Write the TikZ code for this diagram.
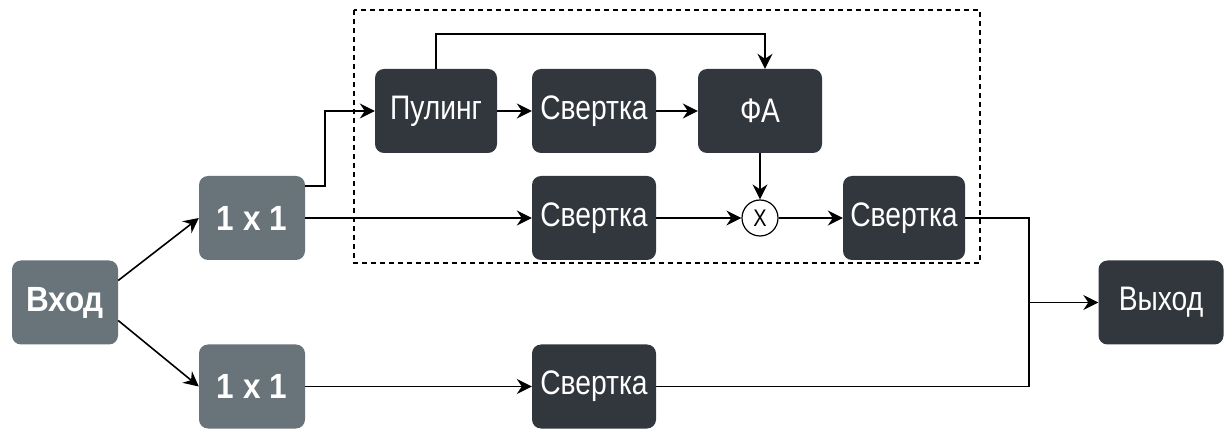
\documentclass[tikz,border=0pt]{standalone}
\usepackage{fontspec}
\setmainfont{Liberation Sans}
\newfontfamily\narrowfont[FakeStretch=0.83]{Liberation Sans}
\newfontfamily\boldnarrow[FakeStretch=0.9]{Liberation Sans Bold}
\usetikzlibrary{arrows.meta}
\definecolor{boxgray}{HTML}{69737A}
\definecolor{boxdark}{HTML}{32373D}

\begin{document}
\begin{tikzpicture}[x=1pt,y=1pt,
  darkbox/.style={fill=boxdark, text=white, rounded corners=9pt, inner sep=0pt,
    minimum width=124pt, minimum height=84pt, font=\narrowfont\fontsize{34}{34}\selectfont},
  graybox/.style={fill=boxgray, text=white, rounded corners=9pt, inner sep=0pt,
    minimum width=106pt, minimum height=84pt, font=\boldnarrow\fontsize{35}{35}\selectfont},
  link/.style={line width=1.6pt, -{Stealth[length=15pt,width=15pt,inset=5pt]}},
  wire/.style={line width=1.6pt}]
\useasboundingbox (0,0) rectangle (1227,-430);

% attention block frame
\draw[line width=1.3pt, dash pattern=on 5pt off 4pt] (354,-10) rectangle (980,-263);

% input and 1x1 convolutions
\node[graybox] (vhod) at (65,-302.5) {Вход};
\node[graybox] (convA) at (252,-218) {1 x 1};
\node[graybox] (convB) at (252,-386.5) {1 x 1};

% upper branch
\node[darkbox, minimum width=122pt] (pool) at (436,-111) {Пулинг};
\node[darkbox] (svTop) at (594,-111) {Свертка};
\node[darkbox] (fa) at (760,-111) {ФА};
\node[darkbox] (svMid) at (594,-218) {Свертка};
\node[draw, circle, fill=white, line width=1.2pt, minimum size=36pt, inner sep=0pt,
  font=\narrowfont\fontsize{24}{24}\selectfont] (mul) at (760,-218) {X};
\node[darkbox, minimum width=122pt] (svOut) at (904,-218) {Свертка};

% lower branch and output
\node[darkbox] (svBot) at (594,-386.5) {Свертка};
\node[darkbox, minimum width=125pt] (vyhod) at (1161,-302.5) {Выход};

% connectors
\draw[link] ([yshift=22pt]vhod.east) -- (convA.west);
\draw[link] ([yshift=-18pt]vhod.east) -- (convB.west);
\draw[link] ([yshift=32pt]convA.east) -- ++(20,0) |- (pool.west);
\draw[link] (convA.east) -- (svMid.west);
\draw[link] (pool) -- (svTop);
\draw[link] (svTop) -- (fa);
\draw[link] (pool.north) |- (765,-34) -- ([xshift=5pt]fa.north);
\draw[link] (fa.south) -- (mul.north);
\draw[link] (svMid.east) -- (mul.west);
\draw[link] (mul.east) -- (svOut.west);
\draw[link] (convB.east) -- (svBot.west);
\coordinate (join) at (1029,-302.5);
\draw[wire] (svOut.east) -| (join);
\draw[wire] (svBot.east) -| (join);
\draw[link] (join) -- (vyhod.west);
\end{tikzpicture}
\end{document}
